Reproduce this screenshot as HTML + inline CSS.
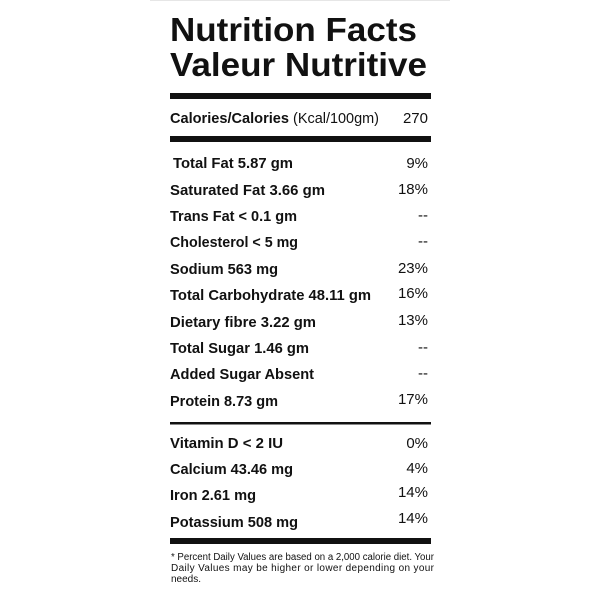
<!DOCTYPE html>
<html><head><meta charset="utf-8"><style>
html,body{margin:0;padding:0;background:#fff;}
svg{display:block;}
text{font-family:"Liberation Sans",sans-serif;fill:#111;}
.b{font-weight:bold;font-size:15px;}
.v{font-size:15px;}
</style></head><body>
<svg width="600" height="600" viewBox="0 0 600 600">
<line x1="150" y1="0.5" x2="450" y2="0.5" stroke="#e6e6e6" stroke-width="1"/>
<text x="170" y="41" font-size="33" font-weight="bold" textLength="247" lengthAdjust="spacingAndGlyphs">Nutrition Facts</text>
<text x="170" y="76" font-size="33" font-weight="bold" textLength="257" lengthAdjust="spacingAndGlyphs">Valeur Nutritive</text>
<rect x="170" y="93" width="261" height="6" fill="#111"/>
<text class="b" x="170" y="123" textLength="119" lengthAdjust="spacingAndGlyphs">Calories/Calories</text>
<text class="v" x="293" y="123" textLength="86" lengthAdjust="spacingAndGlyphs">(Kcal/100gm)</text>
<text class="v" x="428" y="123" text-anchor="end">270</text>
<rect x="170" y="136" width="261" height="6" fill="#111"/>

<text class="b" x="173" y="168" textLength="120" lengthAdjust="spacingAndGlyphs">Total Fat 5.87 gm</text>
<text class="v" x="428" y="168" text-anchor="end">9%</text>
<text class="b" x="170" y="195" textLength="155" lengthAdjust="spacingAndGlyphs">Saturated Fat 3.66 gm</text>
<text class="v" x="428" y="194" text-anchor="end">18%</text>
<text class="b" x="170" y="221" textLength="127" lengthAdjust="spacingAndGlyphs">Trans Fat &lt; 0.1 gm</text>
<text class="v" x="428" y="220" text-anchor="end">--</text>
<text class="b" x="170" y="247" textLength="128" lengthAdjust="spacingAndGlyphs">Cholesterol &lt; 5 mg</text>
<text class="v" x="428" y="246" text-anchor="end">--</text>
<text class="b" x="170" y="274" textLength="108" lengthAdjust="spacingAndGlyphs">Sodium 563 mg</text>
<text class="v" x="428" y="273" text-anchor="end">23%</text>
<text class="b" x="170" y="300" textLength="201" lengthAdjust="spacingAndGlyphs">Total Carbohydrate 48.11 gm</text>
<text class="v" x="428" y="298" text-anchor="end">16%</text>
<text class="b" x="170" y="327" textLength="146" lengthAdjust="spacingAndGlyphs">Dietary fibre 3.22 gm</text>
<text class="v" x="428" y="325" text-anchor="end">13%</text>
<text class="b" x="170" y="353" textLength="139" lengthAdjust="spacingAndGlyphs">Total Sugar 1.46 gm</text>
<text class="v" x="428" y="352" text-anchor="end">--</text>
<text class="b" x="170" y="379" textLength="144" lengthAdjust="spacingAndGlyphs">Added Sugar Absent</text>
<text class="v" x="428" y="378" text-anchor="end">--</text>
<text class="b" x="170" y="406" textLength="108" lengthAdjust="spacingAndGlyphs">Protein 8.73 gm</text>
<text class="v" x="428" y="404" text-anchor="end">17%</text>

<rect x="170" y="422" width="261" height="2.5" fill="#111"/>

<text class="b" x="170" y="448" textLength="113" lengthAdjust="spacingAndGlyphs">Vitamin D &lt; 2 IU</text>
<text class="v" x="428" y="448" text-anchor="end">0%</text>
<text class="b" x="170" y="474" textLength="123" lengthAdjust="spacingAndGlyphs">Calcium 43.46 mg</text>
<text class="v" x="428" y="473" text-anchor="end">4%</text>
<text class="b" x="170" y="500" textLength="86" lengthAdjust="spacingAndGlyphs">Iron 2.61 mg</text>
<text class="v" x="428" y="497" text-anchor="end">14%</text>
<text class="b" x="170" y="527" textLength="128" lengthAdjust="spacingAndGlyphs">Potassium 508 mg</text>
<text class="v" x="428" y="523" text-anchor="end">14%</text>

<rect x="170" y="538" width="261" height="6" fill="#111"/>
<text x="171" y="560" font-size="10" textLength="263" lengthAdjust="spacingAndGlyphs">* Percent Daily Values are based on a 2,000 calorie diet. Your</text>
<text x="171" y="571" font-size="10" textLength="263" lengthAdjust="spacing">Daily Values may be higher or lower depending on your</text>
<text x="171" y="582" font-size="10">needs.</text>
</svg>
</body></html>
